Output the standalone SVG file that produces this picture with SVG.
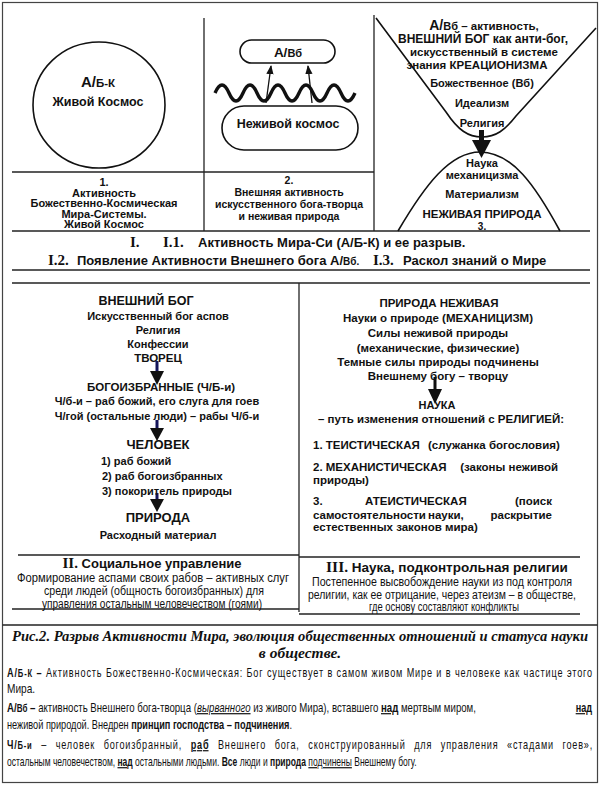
<svg xmlns="http://www.w3.org/2000/svg" width="600" height="786" viewBox="0 0 600 786">
<style>
.b{font-family:"Liberation Sans",Arial,sans-serif;font-weight:bold;fill:#111}
.s{font-family:"Liberation Serif","Times New Roman",serif;font-weight:bold;fill:#111}
.n{font-family:"Liberation Sans",Arial,sans-serif;fill:#111;font-size:12px}
.c{text-anchor:middle}
.ln{stroke:#222;stroke-width:1.3;fill:none}
.sh{stroke:#111;stroke-width:1.6;fill:none}
</style>
<defs>
<marker id="ah" viewBox="0 0 10 10" refX="9" refY="5" markerWidth="7" markerHeight="7" orient="auto"><path d="M0,1 L10,5 L0,9 Z" fill="#111"/></marker>
</defs>
<rect x="2.5" y="2.5" width="595" height="780" fill="#fff" stroke="#444" stroke-width="1.2"/>

<g id="frame-lines">
<line class="ln" x1="12" y1="172" x2="374" y2="172"/>
<line class="ln" x1="12" y1="231" x2="590" y2="231"/>
<line class="ln" x1="204" y1="18" x2="204" y2="231"/>
<line class="ln" x1="374" y1="15" x2="374" y2="231"/>
<line class="ln" x1="12" y1="270" x2="590" y2="270"/>
<line class="ln" x1="12" y1="283" x2="590" y2="283"/>
<line class="ln" x1="299" y1="283" x2="299" y2="612"/>
<line class="ln" x1="18" y1="555" x2="299" y2="555"/>
<line class="ln" x1="299" y1="557" x2="580" y2="557"/>
<line class="ln" x1="12" y1="609" x2="299" y2="609"/>
<line class="ln" x1="299" y1="614" x2="580" y2="614"/>
<line class="ln" x1="2.5" y1="625" x2="597.5" y2="625"/>
</g>

<g id="panel1">
<ellipse cx="99" cy="105" rx="66" ry="63" class="sh"/>
<text class="b c" x="98" y="87" font-size="15">А/<tspan font-size="11.5">Б-К</tspan></text>
<text class="b c" x="98" y="106" font-size="12.5">Живой Космос</text>
<text class="b c" x="104" y="186" font-size="11">1.</text>
<text class="b c" x="104" y="196.5" font-size="11">Активность</text>
<text class="b c" x="104" y="207" font-size="11">Божественно-Космическая</text>
<text class="b c" x="104" y="217.5" font-size="11">Мира-Системы.</text>
<text class="b c" x="104" y="228" font-size="11">Живой Космос</text>
</g>

<g id="panel2">
<rect x="240" y="40" width="95" height="23" rx="11.5" class="sh"/>
<text class="b c" x="288" y="57" font-size="13.5">А/<tspan font-size="11">Вб</tspan></text>
<path d="M215,93 q7,-16 14,0 t14,0 t14,0 t14,0 t14,0 t14,0 t14,0 t14,0 t14,0 t14,0" fill="none" stroke="#111" stroke-width="3.4"/>
<rect x="222" y="106" width="136" height="44" rx="22" class="sh"/>
<text class="b c" x="288" y="128" font-size="12.5">Неживой космос</text>
<text class="b c" x="289" y="184" font-size="10.5">2.</text>
<text class="b c" x="289" y="196" font-size="10.5">Внешняя активность</text>
<text class="b c" x="289" y="208" font-size="10.5">искусственного бога-творца</text>
<text class="b c" x="289" y="220" font-size="10.5">и неживая природа</text>
</g>

<g id="panel3">
<path d="M376,18 L446,112 C458,130 468,137 482,137 C496,137 505,130 516,116 L596,28" class="sh"/>
<path d="M398,231 C425,185 450,152 480,152 C512,152 535,185 560,231" class="sh"/>
<text class="b c" x="484" y="30" font-size="14">А/<tspan font-size="11">Вб</tspan><tspan font-size="11.5">  – активность,</tspan></text>
<text class="b c" x="483" y="43" font-size="12">ВНЕШНИЙ БОГ как анти-бог,</text>
<text class="b c" x="484" y="56" font-size="11.5">искусственный в системе</text>
<text class="b c" x="477" y="69" font-size="11.5">знания КРЕАЦИОНИЗМА</text>
<text class="b c" x="482" y="87" font-size="11">Божественное (Вб)</text>
<text class="b c" x="482" y="107" font-size="11">Идеализм</text>
<text class="b c" x="482" y="127" font-size="11">Религия</text>
<text class="b c" x="482" y="167" font-size="11">Наука</text>
<text class="b c" x="482" y="179" font-size="11">механицизма</text>
<text class="b c" x="482" y="198" font-size="11">Материализм</text>
<text class="b c" x="482" y="218" font-size="11.5">НЕЖИВАЯ ПРИРОДА</text>
<text class="b c" x="482" y="230" font-size="10">3.</text>
</g>

<g id="title1">
<text class="b" y="247" font-size="13"><tspan class="s" x="130" font-size="15">I.</tspan><tspan class="s" x="163" font-size="15">I.1.</tspan><tspan x="198">Активность Мира-Си (А/Б-К) и ее разрыв.</tspan></text>
<text class="b" y="265" font-size="13"><tspan class="s" x="48" font-size="15">I.2.</tspan><tspan x="77">Появление Активности Внешнего бога А/</tspan><tspan font-size="10">Вб.</tspan><tspan class="s" x="373" font-size="15">I.3.</tspan><tspan x="403">Раскол знаний о Мире</tspan></text>
</g>

<g id="connectors">
<g fill="#14145a" stroke="none">
<rect x="155.5" y="361" width="3" height="12"/>
<rect x="155.5" y="420" width="3" height="10"/>
<rect x="155.5" y="493" width="3" height="8"/>
</g>
<g fill="#111">
<path d="M150,371 L164,371 L157,385 Z"/>
<path d="M150,428 L164,428 L157,441 Z"/>
<path d="M150,499 L164,499 L157,512 Z"/>
<rect x="433.5" y="377" width="3" height="14"/>
<path d="M428,389 L442,389 L435,404 Z"/>
<rect x="479" y="130" width="5" height="12"/>
<path d="M472,140 L491,140 L481.5,158 Z"/>
</g>
<line x1="266" y1="103" x2="271" y2="66" stroke="#111" stroke-width="1.3" marker-end="url(#ah)"/>
<line x1="312" y1="103" x2="308" y2="66" stroke="#111" stroke-width="1.3" marker-end="url(#ah)"/>
</g>

<g id="left-panel">
<text class="b c" x="146" y="305" font-size="12.5">ВНЕШНИЙ БОГ</text>
<text class="b c" x="158" y="320" font-size="11">Искусственный бог аспов</text>
<text class="b c" x="158" y="334" font-size="11">Религия</text>
<text class="b c" x="158" y="348" font-size="11">Конфессии</text>
<text class="b c" x="158" y="362" font-size="11.5">ТВОРЕЦ</text>
<text class="b c" x="161" y="391" font-size="11.5">БОГОИЗБРАННЫЕ (Ч/Б-и)</text>
<text class="b c" x="157" y="405" font-size="11">Ч/б-и – раб божий, его слуга для гоев</text>
<text class="b c" x="157" y="420" font-size="11">Ч/гой (остальные люди) – рабы Ч/б-и</text>
<text class="b c" x="158" y="449" font-size="13">ЧЕЛОВЕК</text>
<text class="b" x="101" y="465" font-size="11">1) раб божий</text>
<text class="b" x="102" y="480" font-size="11">2) раб богоизбранных</text>
<text class="b" x="102" y="495" font-size="11">3) покоритель природы</text>
<text class="b c" x="158" y="522" font-size="13">ПРИРОДА</text>
<text class="b c" x="158" y="539" font-size="11">Расходный материал</text>
</g>

<g id="right-panel">
<text class="b c" x="439" y="307" font-size="11.5">ПРИРОДА НЕЖИВАЯ</text>
<text class="b c" x="438" y="322" font-size="11.5">Науки о природе (МЕХАНИЦИЗМ)</text>
<text class="b c" x="438" y="337" font-size="11.5">Силы неживой природы</text>
<text class="b c" x="438" y="352" font-size="11.5">(механические, физические)</text>
<text class="b c" x="438" y="366" font-size="11.5">Темные силы природы подчинены</text>
<text class="b c" x="438" y="380" font-size="11.5">Внешнему богу – творцу</text>
<text class="b c" x="437" y="409" font-size="11">НАУКА</text>
<text class="b c" x="441" y="423" font-size="11.5">– путь изменения отношений с РЕЛИГИЕЙ:</text>
<text class="b" y="449" font-size="11.5"><tspan x="313">1. ТЕИСТИЧЕСКАЯ</tspan><tspan x="428">(служанка богословия)</tspan></text>
<text class="b" y="471" font-size="11.5"><tspan x="313">2. МЕХАНИСТИЧЕСКАЯ</tspan><tspan x="558" text-anchor="end">(законы неживой</tspan></text>
<text class="b" x="313" y="484" font-size="11.5">природы)</text>
<text class="b" y="505" font-size="11.5"><tspan x="313">3.</tspan><tspan x="365">АТЕИСТИЧЕСКАЯ</tspan><tspan x="552" text-anchor="end">(поиск</tspan></text>
<text class="b" y="519" font-size="11.5"><tspan x="313">самостоятельности</tspan><tspan x="428">науки,</tspan><tspan x="552" text-anchor="end">раскрытие</tspan></text>
<text class="b" x="313" y="531" font-size="11.5">естественных законов мира)</text>
</g>

<g id="section2">
<text class="b c" x="152" y="568" font-size="13"><tspan class="s" font-size="15">II.</tspan> Социальное управление</text>
<text class="n c" x="153" y="582" font-size="11.5" textLength="272" lengthAdjust="spacingAndGlyphs">Формирование аспами своих рабов – активных слуг</text>
<text class="n c" x="154" y="595" font-size="11.5" textLength="220" lengthAdjust="spacingAndGlyphs">среди людей (общность богоизбранных) для</text>
<text class="n c" x="152" y="607.5" font-size="11.5" textLength="220" lengthAdjust="spacingAndGlyphs">управления остальным человечеством (гоями)</text>
</g>

<g id="section3">
<text class="b c" x="447" y="572" font-size="13.5"><tspan class="s" font-size="15.5">III.</tspan> Наука, подконтрольная религии</text>
<text class="n c" x="442" y="586" font-size="11.5" textLength="260" lengthAdjust="spacingAndGlyphs">Постепенное высвобождение науки из под контроля</text>
<text class="n c" x="442" y="599" font-size="11.5" textLength="268" lengthAdjust="spacingAndGlyphs">религии, как ее отрицание, через атеизм – в обществе,</text>
<text class="n c" x="444" y="611" font-size="11.5" textLength="150" lengthAdjust="spacingAndGlyphs">где основу составляют конфликты</text>
</g>

<g id="caption">
<text class="s c" x="300" y="641" font-size="15.5" font-style="italic" textLength="576" lengthAdjust="spacingAndGlyphs">Рис.2. Разрыв Активности Мира, эволюция общественных отношений и статуса науки</text>
<text class="s c" x="300" y="658" font-size="15.5" font-style="italic">в обществе.</text>
<g transform="scale(0.76,1)">
<text class="n" x="9.2" y="677" textLength="770" lengthAdjust="spacing"><tspan font-weight="bold">А/<tspan font-size="10">Б-К</tspan> –</tspan> Активность Божественно-Космическая: Бог существует в самом живом Мире и в человеке как частице этого</text>
<text class="n" x="9.2" y="693" textLength="37" lengthAdjust="spacingAndGlyphs">Мира.</text>
<text class="n" x="9.2" y="712" textLength="617" lengthAdjust="spacingAndGlyphs"><tspan font-weight="bold">А/<tspan font-size="10">Вб</tspan> –</tspan> активность Внешнего бога-творца (<tspan font-style="italic" text-decoration="underline">вырванного</tspan> из живого Мира), вставшего <tspan font-weight="bold" text-decoration="underline">над</tspan> мертвым миром,</text>
<text class="n" x="779" y="712" text-anchor="end" font-weight="bold" text-decoration="underline">над</text>
<text class="n" x="9.2" y="729" textLength="375" lengthAdjust="spacingAndGlyphs">неживой природой. Внедрен <tspan font-weight="bold">принцип господства – подчинения</tspan>.</text>
<text class="n" x="9.2" y="749" word-spacing="7" textLength="770" lengthAdjust="spacing"><tspan font-weight="bold">Ч/<tspan font-size="10">Б-и</tspan></tspan> – человек богоизбранный, <tspan font-weight="bold" text-decoration="underline">раб</tspan> Внешнего бога, сконструированный для управления «стадами гоев»,</text>
<text class="n" x="9.2" y="766" textLength="539" lengthAdjust="spacingAndGlyphs">остальным человечеством, <tspan font-weight="bold" text-decoration="underline">над</tspan> остальными людьми. <tspan font-weight="bold">Все</tspan> люди и <tspan font-weight="bold">природа</tspan> <tspan text-decoration="underline">подчинены</tspan> Внешнему богу.</text>
</g>
</g>
</svg>
